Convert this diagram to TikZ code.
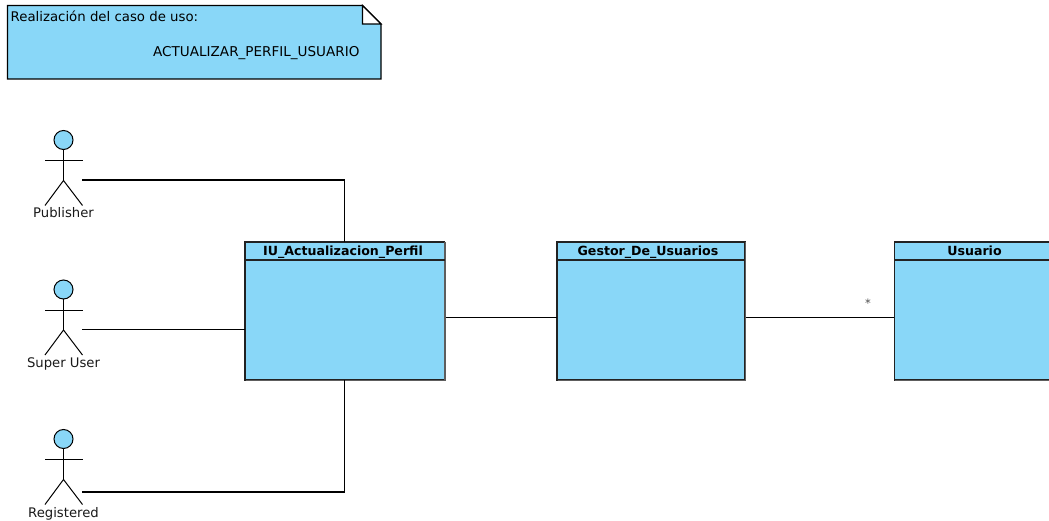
\documentclass[tikz,border=0pt]{standalone}
\usepackage{fontspec}
\setmainfont{DejaVu Sans}
\usetikzlibrary{positioning,calc}
\definecolor{umlblue}{HTML}{89D7F8}
\definecolor{umledge}{HTML}{222222}
\definecolor{umlshade}{HTML}{5E5E5E}
\tikzset{
  classbox/.style={draw=umledge,fill=umlblue,line width=1.2pt,minimum height=138pt,inner sep=0pt,outer sep=0pt,anchor=north west},
  classtitle/.style={font=\fontsize{12.6}{14}\selectfont\bfseries,text=black,inner sep=0pt,anchor=base},
  link/.style={draw=black,line width=1.1pt},
  actorline/.style={draw=black,line width=1pt},
  actorhead/.style={circle,draw=black,fill=umlblue,line width=1pt,minimum size=19pt,inner sep=0pt,outer sep=0pt},
  caption/.style={font=\fontsize{13.2}{15}\selectfont,text=black!90,inner sep=0pt,anchor=base},
  notetext/.style={font=\fontsize{13.3}{15}\selectfont,text=black,inner sep=0pt,anchor=base west}
}
\begin{document}
\begin{tikzpicture}[x=1pt,y=-1pt]
\useasboundingbox (0,0) rectangle (1049,521);
\clip (0,0) rectangle (1049,521);
% note
\fill[umlblue,draw=black,line width=1.2pt] (7.5,5.5) -- (362.5,5.5) -- (381,24) -- (381,79) -- (7.5,79) -- cycle;
\filldraw[fill=white,draw=black,line width=1.1pt] (362.5,5.5) -- (381,24) -- (362.5,24) -- cycle;
\node[notetext] (notea) at (10.5,22) {Realización del caso de uso:};
\node[notetext,font=\fontsize{13.55}{15}\selectfont] (noteb) at (153,57) {ACTUALIZAR\_PERFIL\_USUARIO};
% classes
\node[classbox,minimum width=199.5pt] (iu) at (245,242) {};
\node[classbox,minimum width=188pt] (gestor) at (557,242) {};
\node[classbox,minimum width=170pt] (usuario) at (894.5,242) {};
\foreach \b in {iu,gestor,usuario}{
  \draw[umlshade,line width=1.8pt] ($(\b.south west)+(0.5,0.5)$) -- ($(\b.south east)+(0.5,0.5)$) -- ($(\b.north east)+(0.5,0)$);
  \draw[umledge,line width=1.1pt] ($(\b.north west)+(0,18)$) -- ($(\b.north east)+(0,18)$);
}
\node[classtitle] (iut) at (343,256) {IU\_Actualizacion\_Perfil};
\node[classtitle] (gest) at (648,256) {Gestor\_De\_Usuarios};
\node[classtitle] (usut) at (974.5,256) {Usuario};
% actors
\foreach \n/\cy/\label in {pub/140/Publisher,sup/289.5/Super User,reg/439/Registered}{
  \node[actorhead] (\n) at (63.5,\cy) {};
  \coordinate (\n hip) at (63.5,\cy+40.5);
  \coordinate (\n port) at (82,\cy+40);
  \draw[actorline] (\n.south) -- (\n hip);
  \draw[actorline] (45,\cy+20.5) -- (82.5,\cy+20.5);
  \draw[actorline] (45,\cy+65.5) -- (\n hip) -- (82.5,\cy+65.5);
  \node[caption] (\n lab) at (63.5,\cy+78) {\label};
}
% connectors
\coordinate (regport) at (82,492);
\coordinate (linkiu) at (446,317.7);
\coordinate (linkge) at (557,317.7);
\coordinate (linkgeo) at (746,317.7);
\coordinate (linkus) at (894,317.7);
\draw[link] (pubport) -| (iu.north);
\draw[link] (support) -- (support -| iu.west);
\draw[link] (regport) -| (iu.south);
\draw[link] (linkiu) -- (linkge);
\draw[link] (linkgeo) -- (linkus);
\node[font=\fontsize{11.5}{12}\selectfont,text=black!70,inner sep=0pt] (mult) at (868,303) {*};
\end{tikzpicture}
\end{document}
